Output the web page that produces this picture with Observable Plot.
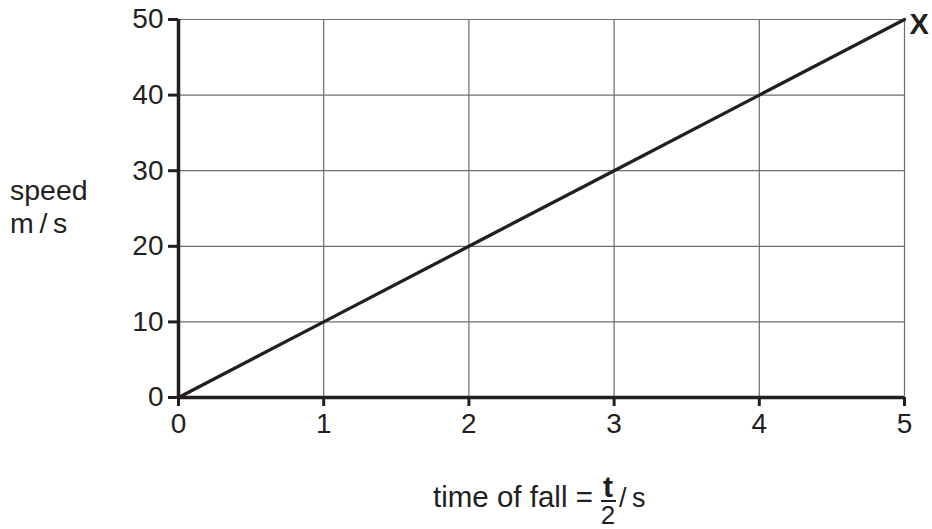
<!DOCTYPE html>
<html>
<head>
<meta charset="utf-8">
<script src="https://cdn.jsdelivr.net/npm/d3@7"></script>
<script src="https://cdn.jsdelivr.net/npm/@observablehq/plot@0.6"></script>
<style>
  html, body { margin: 0; padding: 0; background: #fff; }
  #chart svg { display: block; }
</style>
</head>
<body>
<div id="chart"></div>
<script>
const times = [0, 1, 2, 3, 4, 5];
const speeds = [0, 10, 20, 30, 40, 50];
const xTicks = [0, 1, 2, 3, 4, 5];
const yTicks = [0, 10, 20, 30, 40, 50];
const endLabel = ["X"];

const data = times.map((t, i) => ({t, v: speeds[i]}));
const ink = "#231f20";
const font = "'Liberation Sans', Arial, sans-serif";

const plot = Plot.plot({
  width: 932,
  height: 529,
  marginLeft: 178,
  marginRight: 28,
  marginTop: 19,
  marginBottom: 132,
  style: {fontFamily: font, background: "#fff", color: ink},
  x: {domain: [0, 5]},
  y: {domain: [0, 50]},
  marks: [
    Plot.gridX(xTicks, {stroke: "#6d6e71", strokeOpacity: 1, strokeWidth: 1.2}),
    Plot.gridY(yTicks, {stroke: "#6d6e71", strokeOpacity: 1, strokeWidth: 1.2}),
    Plot.axisX(xTicks, {tickSize: 9, tickPadding: 7, fontSize: 28, strokeWidth: 3, stroke: ink, fill: ink, label: null, tickFormat: d => String(d)}),
    Plot.axisY(yTicks, {tickSize: 10, tickPadding: 5, fontSize: 28, strokeWidth: 3, stroke: ink, fill: ink, label: null, tickFormat: d => String(d)}),
    Plot.ruleX([0], {stroke: ink, strokeWidth: 3.5}),
    Plot.ruleY([0], {stroke: ink, strokeWidth: 3.5}),
    Plot.line(data, {x: "t", y: "v", stroke: ink, strokeWidth: 3.3}),
    Plot.text(endLabel, {x: () => times[times.length - 1], y: () => speeds[speeds.length - 1], text: d => d, dx: 5, dy: 5, textAnchor: "start", fontSize: 29, fontWeight: "bold", fill: ink})
  ]
});

document.getElementById("chart").appendChild(plot);

// Axis titles
const svg = d3.select(plot);
const g = svg.append("g")
  .attr("font-family", font)
  .attr("fill", ink)
  .attr("text-anchor", "start")
  .style("font-size", "28.5px");
g.append("text").attr("x", 10).attr("y", 200).text("speed");
g.append("text").attr("x", 10).attr("y", 233).text("m\u2009/\u2009s");

g.append("text").attr("x", 433).attr("y", 507).style("font-size", "29.5px").text("time of fall =");
// fraction t/2
const fx = 608;
g.append("text").attr("x", fx).attr("y", 497).attr("text-anchor", "middle").attr("font-weight", "bold").style("font-size", "30px").text("t");
g.append("line").attr("x1", fx - 7).attr("x2", fx + 8).attr("y1", 501).attr("y2", 501).attr("stroke", ink).attr("stroke-width", 2);
g.append("text").attr("x", fx).attr("y", 524).attr("text-anchor", "middle").style("font-size", "26px").text("2");
g.append("text").attr("x", fx + 11).attr("y", 507).style("font-size", "27px").text("/\u2009s");
</script>
</body>
</html>
